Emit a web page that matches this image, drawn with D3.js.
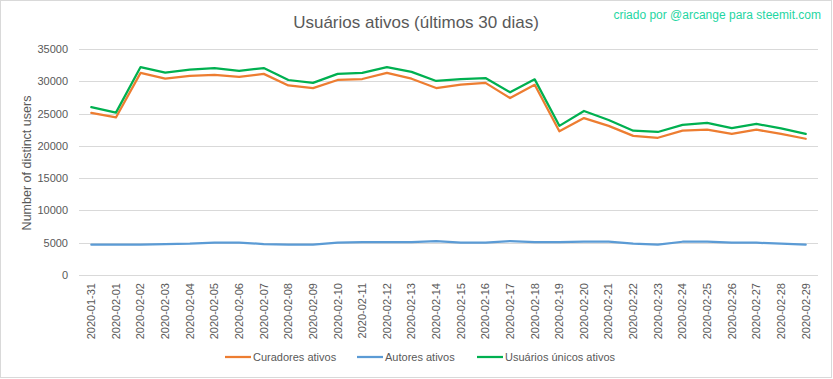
<!DOCTYPE html>
<html><head><meta charset="utf-8">
<script src="https://cdn.jsdelivr.net/npm/d3@7"></script>
<style>body{margin:0;background:#fff}svg{display:block}text{font-family:"Liberation Sans",Arial,sans-serif}</style>
</head><body><svg id="c" width="833" height="379"></svg>
<script>
const dates = ["2020-01-31","2020-02-01","2020-02-02","2020-02-03","2020-02-04","2020-02-05","2020-02-06","2020-02-07","2020-02-08","2020-02-09","2020-02-10","2020-02-11","2020-02-12","2020-02-13","2020-02-14","2020-02-15","2020-02-16","2020-02-17","2020-02-18","2020-02-19","2020-02-20","2020-02-21","2020-02-22","2020-02-23","2020-02-24","2020-02-25","2020-02-26","2020-02-27","2020-02-28","2020-02-29"];
const curadores = [25100,24400,31300,30400,30850,31000,30700,31150,29350,28950,30200,30350,31300,30400,28950,29500,29750,27400,29450,22250,24300,23100,21550,21250,22350,22500,21850,22500,21850,21100];
const autores = [4700,4700,4700,4800,4850,5000,5000,4800,4700,4700,5000,5100,5100,5100,5250,5000,5000,5250,5100,5100,5150,5150,4850,4700,5150,5150,5000,5000,4850,4700];
const unicos = [26000,25150,32200,31350,31800,32050,31600,32050,30200,29750,31150,31300,32200,31450,30050,30350,30500,28300,30300,23100,25400,24000,22350,22150,23250,23550,22750,23400,22700,21850];
const yTicks = [0,5000,10000,15000,20000,25000,30000,35000];
const seriesNames = ["Curadores ativos","Autores ativos","Usuários únicos ativos"];
const seriesColors = ["#ED7D31","#5B9BD5","#00B050"];
const title = "Usuários ativos (últimos 30 dias)";
const credit = "criado por @arcange para steemit.com";
const yTitle = "Number of distinct users";

const svg = d3.select("#c");
svg.append("rect").attr("x",0.5).attr("y",0.5).attr("width",831).attr("height",377)
  .attr("fill","#fff").attr("stroke","#d9d9d9");

const x = d3.scaleBand().domain(dates).range([79,818]);
const y = d3.scaleLinear().domain([0,35000]).range([275,49]);
const cx = d => x(d) + x.bandwidth()/2;

// gridlines
svg.append("g").selectAll("line").data(yTicks).join("line")
  .attr("x1",79).attr("x2",818)
  .attr("y1",d=>Math.round(y(d))+0.5).attr("y2",d=>Math.round(y(d))+0.5)
  .attr("stroke","#d9d9d9").attr("stroke-width",1);

// y axis labels
const yAxis = d3.axisLeft(y).tickValues(yTicks).tickSize(0).tickPadding(0).tickFormat(d3.format("d"));
const gy = svg.append("g").attr("transform","translate(68,0)").call(yAxis);
gy.select(".domain").remove();
gy.selectAll("text").attr("font-size",11).attr("fill","#595959").attr("font-family","Liberation Sans, Arial, sans-serif");

// x axis labels
const xAxis = d3.axisBottom(x).tickSize(0).tickPadding(0);
const gx = svg.append("g").attr("transform","translate(0,283)").call(xAxis);
gx.select(".domain").remove();
gx.selectAll("text").attr("font-size",11).attr("fill","#595959").attr("font-family","Liberation Sans, Arial, sans-serif")
  .attr("transform","rotate(-90)").attr("text-anchor","end").attr("x",0).attr("y",0).attr("dy","0.35em").attr("dx",0);

// lines
const allSeries = [curadores, autores, unicos];
const line = d3.line().x((d,i)=>cx(dates[i])).y(d=>y(d));
allSeries.forEach((s,k)=>{
  svg.append("path").datum(s).attr("d",line).attr("fill","none")
    .attr("stroke",seriesColors[k]).attr("stroke-width",2.25).attr("stroke-linejoin","round").attr("stroke-linecap","round");
});

// title
svg.append("text").attr("x",416).attr("y",28).attr("text-anchor","middle")
  .attr("font-size",17).attr("fill","#595959").text(title);
svg.append("text").attr("x",821).attr("y",19).attr("text-anchor","end")
  .attr("font-size",12).attr("fill","#1fd6a2").text(credit);
svg.append("text").attr("transform","translate(31,163) rotate(-90)").attr("text-anchor","middle")
  .attr("font-size",12.5).attr("fill","#595959").text(yTitle);

// legend
const legX = [225,357,477];
seriesNames.forEach((n,k)=>{
  const g = svg.append("g").attr("transform",`translate(${legX[k]},357)`);
  g.append("line").attr("x1",0).attr("x2",26).attr("y1",0).attr("y2",0).attr("stroke",seriesColors[k]).attr("stroke-width",2.25);
  g.append("text").attr("x",28).attr("y",0).attr("dy","0.35em").attr("font-size",11).attr("fill","#595959").text(n);
});
</script></body></html>
